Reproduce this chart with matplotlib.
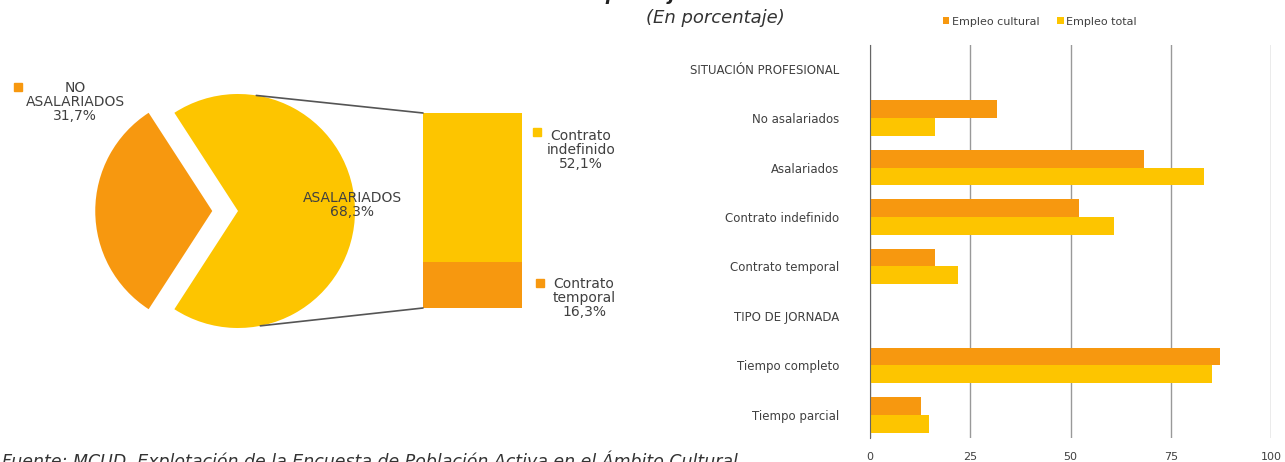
import numpy as np
import matplotlib
matplotlib.use("Agg")
import matplotlib.pyplot as plt
from matplotlib.patches import ConnectionPatch

# datos
pie_labels = ["NO\nASALARIADOS\n31,7%", "ASALARIADOS\n68,3%"]
pie_values = [31.7, 68.3]
contrato_labels = ["Contrato\nindefinido\n52,1%", "Contrato\ntemporal\n16,3%"]
contrato_values = [52.1, 16.3]

categorias = ["SITUACIÓN PROFESIONAL", "No asalariados", "Asalariados", "Contrato indefinido",
              "Contrato temporal", "TIPO DE JORNADA", "Tiempo completo", "Tiempo parcial"]
empleo_cultural = [np.nan, 31.7, 68.3, 52.1, 16.3, np.nan, 87.4, 12.6]
empleo_total = [np.nan, 16.1, 83.4, 60.9, 21.9, np.nan, 85.3, 14.7]
ticks_x = [0, 25, 50, 75, 100]

NARANJA = "#F7980F"
AMARILLO = "#FDC500"
GRIS = "#404040"

plt.rcParams['font.family'] = ['DejaVu Sans']

W, H = 1285, 462
fig = plt.figure(figsize=(W / 100, H / 100), dpi=100)


def caja(x0, y0, x1, y1):
    # caja en pixeles (origen arriba a la izquierda) -> fracciones de figura
    return [x0 / W, 1 - y1 / H, (x1 - x0) / W, (y1 - y0) / H]


# --- tarta ---
r_px = 117
cx, cy = 238, 211
lim = 1.5
ax_pie = fig.add_axes(caja(cx - lim * r_px, cy - lim * r_px, cx + lim * r_px, cy + lim * r_px))
start = 180 - pie_values[0] / 100 * 360 / 2
wedges, _ = ax_pie.pie(pie_values, colors=[NARANJA, AMARILLO], startangle=start,
                       explode=[0.22, 0], radius=1, wedgeprops=dict(linewidth=0))
ax_pie.set_xlim(-lim, lim)
ax_pie.set_ylim(-lim, lim)
ax_pie.set_aspect("equal")
ax_pie.axis("off")

# --- barra de contratos ---
ax_bar = fig.add_axes(caja(423, 113, 522, 308))
ax_bar.bar([0], [contrato_values[1]], width=1, color=NARANJA, linewidth=0)
ax_bar.bar([0], [contrato_values[0]], bottom=[contrato_values[1]], width=1, color=AMARILLO, linewidth=0)
ax_bar.set_xlim(-0.5, 0.5)
ax_bar.set_ylim(0, sum(contrato_values))
ax_bar.axis("off")

# lineas de union
for ang, yb in [(81, sum(contrato_values)), (-79, 0)]:
    p = (np.cos(np.radians(ang)), np.sin(np.radians(ang)))
    con = ConnectionPatch(xyA=p, coordsA=ax_pie.transData, xyB=(-0.5, yb), coordsB=ax_bar.transData,
                          color="#555555", linewidth=1.2)
    fig.add_artist(con)

# etiquetas de la tarta
def txt(x, y, s, **kw):
    fig.text(x / W, 1 - y / H, s, **kw)

opts = dict(ha="center", va="center", fontsize=10, color=GRIS, linespacing=1.0)
txt(75, 102, pie_labels[0], **opts)
txt(352, 205, pie_labels[1], **opts)
txt(581, 150, contrato_labels[0], **opts)
txt(584, 298, contrato_labels[1], **opts)
for (x, y, c) in [(18, 87, NARANJA), (537, 132, AMARILLO), (540, 283, NARANJA)]:
    fig.patches.append(plt.Rectangle(((x - 4) / W, 1 - (y + 4) / H), 8 / W, 8 / H,
                                     transform=fig.transFigure, color=c, figure=fig))

# --- barras horizontales ---
ax = fig.add_axes(caja(870, 45, 1271, 438))
y = np.arange(len(categorias))
h = 0.36
ax.barh(y - h / 2, empleo_cultural, height=h, color=NARANJA, label="Empleo cultural")
ax.barh(y + h / 2, empleo_total, height=h, color=AMARILLO, label="Empleo total")
ax.set_ylim(7.47, -0.48)
ax.set_xlim(0, 100)
ax.set_xticks(ticks_x)
ax.set_yticks(y)
ax.set_yticklabels(categorias, fontsize=8.5, color=GRIS)
ax.tick_params(axis="x", labelsize=8, colors=GRIS, length=0, pad=10)
ax.tick_params(axis="y", length=0, pad=22)
ax.grid(axis="x", color="#999999", linewidth=1)
ax.set_axisbelow(True)
for s in ["top", "right", "bottom"]:
    ax.spines[s].set_visible(False)
ax.spines["left"].set_color("#666666")
ax.legend(loc="lower left", bbox_to_anchor=(0.17, 1.035), ncol=2, frameon=False, fontsize=8,
          handlelength=0.6, handleheight=0.6, handletextpad=0.2, columnspacing=1.6,
          borderaxespad=0, labelcolor=GRIS)

# --- titulos y fuente ---
txt(700, 4, "tipo de jornada. 2017", ha="center", va="bottom", fontsize=13, fontweight="bold",
    fontstyle="italic", color="#222222")
txt(715, 18, "(En porcentaje)", ha="center", va="center", fontsize=13, fontstyle="italic", color="#333333")
txt(2, 461, "Fuente: MCUD. Explotación de la Encuesta de Población Activa en el Ámbito Cultural",
    ha="left", va="center", fontsize=12.5, fontstyle="italic", color="#333333")

fig.savefig("out.png", dpi=100)
